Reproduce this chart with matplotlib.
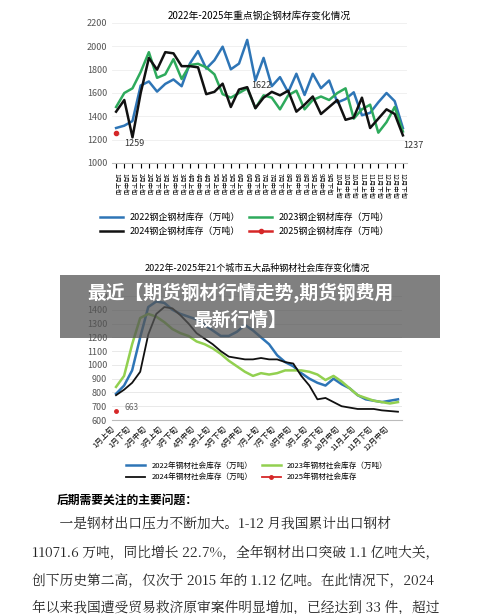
import numpy as np
import matplotlib.pyplot as plt
from matplotlib.patches import Rectangle

plt.rcParams['font.family'] = ['Noto Sans CJK SC', 'DejaVu Sans']

months = [f"{m}月" for m in range(1, 13)]
dekads = [m + d for m in months for d in ["上旬", "中旬", "下旬"]]

# top chart: key steel enterprises inventory
top_2022 = [1300, 1320, 1360, 1664, 1699, 1612, 1678, 1716, 1658, 1852, 1959, 1809,
            1881, 1997, 1803, 1852, 2055, 1707, 1901, 1658, 1736, 1606, 1765, 1583,
            1765, 1641, 1707, 1519, 1548, 1606, 1409, 1430, 1520, 1600, 1530, 1300]
top_2023 = [1480, 1600, 1640, 1780, 1950, 1730, 1760, 1890, 1720, 1840, 1850, 1820,
            1760, 1590, 1560, 1600, 1640, 1470, 1580, 1560, 1460, 1580, 1620, 1460,
            1540, 1570, 1540, 1600, 1640, 1380, 1460, 1500, 1260, 1350, 1480, 1270]
top_2024 = [1440, 1540, 1220, 1600, 1900, 1800, 1950, 1940, 1830, 1830, 1820, 1590,
            1610, 1680, 1480, 1630, 1650, 1470, 1560, 1610, 1580, 1620, 1440, 1500,
            1570, 1420, 1480, 1540, 1370, 1390, 1560, 1300, 1380, 1460, 1420, 1237]
top_2025 = [1259]

# bottom chart: social inventory in 21 cities
bot_2022 = [790, 850, 960, 1200, 1420, 1460, 1450, 1400, 1370, 1350, 1330, 1290,
            1250, 1210, 1210, 1240, 1290, 1250, 1200, 1150, 1070, 1020, 990, 940,
            900, 870, 850, 900, 860, 830, 780, 750, 740, 730, 740, 750]
bot_2023 = [840, 920, 1150, 1340, 1370, 1350, 1310, 1260, 1230, 1210, 1170, 1150,
            1120, 1080, 1030, 990, 950, 920, 940, 930, 940, 960, 960, 960,
            950, 930, 890, 920, 880, 830, 780, 760, 740, 730, 720, 730]
bot_2024 = [780, 820, 870, 950, 1220, 1370, 1420, 1410, 1360, 1300, 1230, 1190,
            1150, 1100, 1060, 1050, 1040, 1040, 1050, 1040, 1040, 1020, 1010, 920,
            850, 750, 760, 730, 700, 690, 680, 680, 680, 670, 665, 660]
bot_2025 = [663]

blue, green, black, red = "#2E75B6", "#2EAA5C", "#111111", "#D62728"
green2 = "#92D050"

fig = plt.figure(figsize=(5, 6.14), dpi=100)
x = np.arange(36)


def row_legend(ax, **kw):
    h, l = ax.get_legend_handles_labels()
    order = [0, 2, 1, 3]
    ax.legend([h[i] for i in order], [l[i] for i in order], ncol=2, frameon=False,
              handlelength=2.5, **kw)


# ---- top chart
ax1 = fig.add_axes([112/500, 1-163/614, 295/500, 140/614])
ax1.plot(x, top_2022, c=blue, lw=1.8, label="2022钢企钢材库存（万吨）")
ax1.plot(x, top_2023, c=green, lw=1.8, label="2023钢企钢材库存（万吨）")
ax1.plot(x, top_2024, c=black, lw=1.8, label="2024钢企钢材库存（万吨）")
ax1.plot(x[:1], top_2025, c=red, marker='o', ms=3, lw=1.8, label="2025钢企钢材库存（万吨）")
ax1.set_ylim(1000, 2200)
ax1.set_yticks(range(1000, 2201, 200))
ax1.set_xlim(-0.5, 35.5)
ax1.set_xticks(x)
ax1.set_xticklabels(dekads, rotation=-90, fontsize=4.5)
ax1.tick_params(axis='y', labelsize=6.5, colors='#555555', length=0)
ax1.grid(axis='y', color='#eeeeee', lw=0.6)
for s in ['top', 'right', 'left']:
    ax1.spines[s].set_visible(False)
ax1.spines['bottom'].set_color('#bbbbbb')
ax1.set_title("2022年-2025年重点钢企钢材库存变化情况", fontsize=7, pad=3)
ax1.annotate("1259", xy=(0, 1259), xytext=(1, 1150), fontsize=6.5, color='#333333',
             arrowprops=dict(arrowstyle='-', color='#888888', lw=0.5))
ax1.text(16.5, 1640, "1622", fontsize=6.5, color='#333333')
ax1.text(35, 1130, "1237", fontsize=6.5, color='#333333')
row_legend(ax1, loc='upper center', bbox_to_anchor=(0.45, -0.3), fontsize=6.5,
           columnspacing=1.0)

# ---- bottom chart
ax2 = fig.add_axes([112/500, 1-420/614, 290/500, 124/614])
ax2.plot(x, bot_2022, c=blue, lw=1.8, label="2022年钢材社会库存（万吨）")
ax2.plot(x, bot_2023, c=green2, lw=1.8, label="2023年钢材社会库存（万吨）")
ax2.plot(x, bot_2024, c=black, lw=1.3, label="2024年钢材社会库存（万吨）")
ax2.plot(x[:1], bot_2025, c=red, marker='o', ms=2.5, lw=1.3, label="2025年钢材社会库存")
ax2.set_ylim(600, 1500)
ax2.set_yticks(range(600, 1501, 100))
ax2.set_xlim(-0.5, 35.5)
ax2.set_xticks(x[::2])
ax2.set_xticklabels(dekads[::2], rotation=45, ha='right', fontsize=5.5)
ax2.tick_params(axis='y', labelsize=6.5, colors='#555555', length=0)
ax2.tick_params(axis='x', length=0)
ax2.grid(axis='y', color='#e5e5e5', lw=0.6)
for s in ['top', 'right', 'left']:
    ax2.spines[s].set_visible(False)
ax2.spines['bottom'].set_color('#bbbbbb')
ax2.set_title("2022年-2025年21个城市五大品种钢材社会库存变化情况", fontsize=6.5, pad=18)
ax2.text(1, 670, "663", fontsize=6, color='#666666')
row_legend(ax2, loc='upper center', bbox_to_anchor=(0.5, -0.28), fontsize=5.5,
           columnspacing=1.2)

# ---- overlay banner
fig.patches.append(Rectangle((60/500, 1-338/614), 380/500, 63/614, transform=fig.transFigure,
                             facecolor='#555555', alpha=0.75, zorder=10))
fig.text(240/500, 1-293/614, "最近【期货钢材行情走势,期货钢费用", fontsize=13.5, fontweight='bold',
         color='white', ha='center', va='center', zorder=11)
fig.text(240/500, 1-320/614, "最新行情】", fontsize=13.5, fontweight='bold',
         color='white', ha='center', va='center', zorder=11)

# ---- text block
fig.text(57/500, 1-500/614, "后期需要关注的主要问题：", fontsize=8.5, fontweight='bold', va='center')
lines = ["　　一是钢材出口压力不断加大。1-12 月我国累计出口钢材",
         "11071.6 万吨，同比增长 22.7%，全年钢材出口突破 1.1 亿吨大关，",
         "创下历史第二高，仅次于 2015 年的 1.12 亿吨。在此情况下，2024",
         "年以来我国遭受贸易救济原审案件明显增加，已经达到 33 件，超过"]
for i, ln in enumerate(lines):
    fig.text(32/500, 1-(525 + 27.5*i)/614, ln, fontsize=9.9, va='center', ha='left',
             family=['Noto Serif CJK SC', 'Noto Sans CJK SC', 'DejaVu Sans'], color='#222222')

fig.savefig("out.png", dpi=100)
